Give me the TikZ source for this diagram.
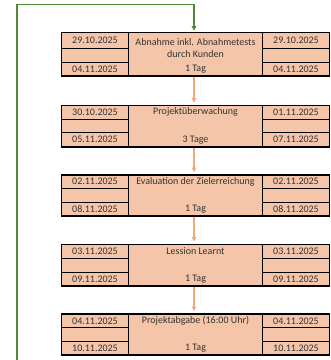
\documentclass[tikz,border=0pt]{standalone}
\usepackage{fontspec}
\setmainfont{Carlito}
\usetikzlibrary{arrows.meta}

\definecolor{stagefill}{HTML}{F5C5A9}
\definecolor{flowarrow}{HTML}{F0A77A}
\definecolor{loopgreen}{HTML}{4F8A32}
\definecolor{celltext}{HTML}{333333}

\tikzset{
  stageframe/.style={draw=black, line width=1.8pt, fill=stagefill, rectangle,
    inner sep=0pt, outer sep=0pt, anchor=north west, minimum width=268pt},
  cellrule/.style={draw=black, line width=0.9pt},
  celltxt/.style={text=celltext, font=\fontsize{10}{12.6}\selectfont,
    inner sep=0pt, align=center},
  flow/.style={draw=flowarrow, line width=1.1pt,
    -{Triangle[length=4.5pt,width=4.5pt]}, shorten <=0.9pt, shorten >=3pt},
  loopback/.style={draw=loopgreen, line width=1.3pt,
    -{Triangle[length=4.5pt,width=4.5pt]}, shorten >=1.8pt},
}

% One stage: #1 name, #2 top edge, #3 height of first row,
% #4/#5 left dates (top/bottom), #6/#7 right dates, #8 title, #9 duration
\newcommand\stage[9]{%
  \pgfmathsetmacro\ra{#2+#3}%
  \pgfmathsetmacro\rb{\ra+13.7}%
  \pgfmathsetmacro\rc{\rb+13.7}%
  \pgfmathsetmacro\hgt{\rc-#2}%
  \node[stageframe, minimum height=\hgt pt] (#1) at (61.5,#2) {};
  \draw[cellrule] (128.5,#2) -- (128.5,\rc);
  \draw[cellrule] (262.5,#2) -- (262.5,\rc);
  \draw[cellrule] (61.5,\ra) -- (128.5,\ra) (61.5,\rb) -- (128.5,\rb);
  \draw[cellrule] (262.5,\ra) -- (329.5,\ra) (262.5,\rb) -- (329.5,\rb);
  \draw[black, line width=1.8pt] (#1.north west) rectangle (#1.south east);
  \pgfmathsetmacro\ya{(#2+\ra)/2}%
  \pgfmathsetmacro\yc{(\rb+\rc)/2}%
  \ifdim#3pt>15pt
    \pgfmathsetmacro\yt{(#2+\rb)/2+0.6}%
  \else
    \pgfmathsetmacro\yt{\ya}%
  \fi
  \node[celltxt] (#1-lt) at (95,\ya) {#4};
  \node[celltxt] (#1-lb) at (95,\yc) {#5};
  \node[celltxt] (#1-rt) at (296,\ya) {#6};
  \node[celltxt] (#1-rb) at (296,\yc) {#7};
  \node[celltxt] (#1-title) at (195.5,\yt) {#8};
  \node[celltxt] (#1-dur) at (195.5,\yc) {#9};
}

\begin{document}
\begin{tikzpicture}[x=1pt, y=-1pt]
  \useasboundingbox (0,0) rectangle (331,360);

  \stage{b1}{32.5}{16.2}{29.10.2025}{04.11.2025}{29.10.2025}{04.11.2025}
    {Abnahme inkl. Abnahmetests\\durch Kunden}{1 Tag}
  \stage{b2}{105.5}{13.7}{30.10.2025}{05.11.2025}{01.11.2025}{07.11.2025}
    {Projektüberwachung}{3 Tage}
  \stage{b3}{175}{13.5}{02.11.2025}{08.11.2025}{02.11.2025}{08.11.2025}
    {Evaluation der Zielerreichung}{1 Tag}
  \stage{b4}{244.5}{13.9}{03.11.2025}{09.11.2025}{03.11.2025}{09.11.2025}
    {Lession Learnt}{1 Tag}
  \stage{b5}{314}{13.6}{04.11.2025}{10.11.2025}{04.11.2025}{10.11.2025}
    {Projektabgabe (16:00 Uhr)}{1 Tag}

  % sequential flow between the stages
  \draw[flow] ([xshift=-1.5pt]b1.south) -- ([xshift=-1.5pt]b2.north);
  \draw[flow] ([xshift=-1.5pt]b2.south) -- ([xshift=-1.5pt]b3.north);
  \draw[flow] ([xshift=-1.5pt]b3.south) -- ([xshift=-1.5pt]b4.north);
  \draw[flow] ([xshift=-1.5pt]b4.south) -- ([xshift=-1.5pt]b5.north);

  % return line feeding back into the first stage
  \coordinate (loopstart) at (17,361);
  \coordinate (looptop) at (17,4.7);
  \draw[loopback] (loopstart) -- (looptop) -| ([xshift=-1.5pt]b1.north);
\end{tikzpicture}
\end{document}
